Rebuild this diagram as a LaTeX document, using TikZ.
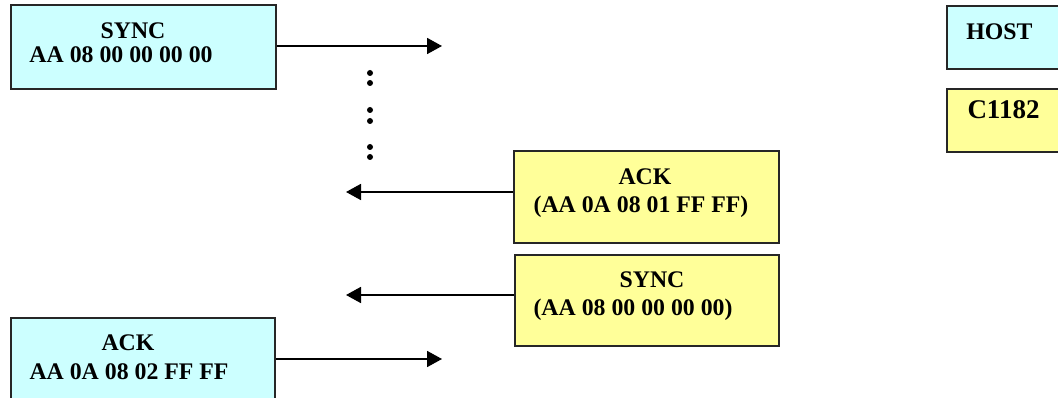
\documentclass[tikz,border=0pt]{standalone}
\usepackage{fontspec}
\setmainfont{Liberation Serif}
\usetikzlibrary{arrows.meta}
\definecolor{hostfill}{HTML}{CCFFFF}
\definecolor{devfill}{HTML}{FFFF99}
\begin{document}
\begin{tikzpicture}[x=1pt,y=-1pt,
  box/.style={draw=black!85,line width=1.8pt,rectangle,anchor=north west,inner sep=0pt},
  hostbox/.style={box,fill=hostfill},
  devbox/.style={box,fill=devfill},
  txt/.style={inner sep=0pt,font=\fontsize{23.8}{28}\selectfont\bfseries,text height=15.5pt,text depth=0pt},
  bigtxt/.style={txt,font=\fontsize{27}{32}\selectfont\bfseries,text height=18pt},
  dot/.style={circle,fill=black,inner sep=0pt,minimum size=6pt},
  arr/.style={line width=1.8pt,-{Triangle[length=15pt,width=16pt]}}]
\clip (0,0) rectangle (1058,398);
\fill[white] (0,0) rectangle (1058,398);

% message boxes
\node[hostbox,minimum width=265pt,minimum height=84pt] (hs) at (10,4) {};
\node[devbox,minimum width=265pt,minimum height=92pt] (ca) at (513,150) {};
\node[devbox,minimum width=264pt,minimum height=91pt] (cs) at (514,254) {};
\node[hostbox,minimum width=264pt,minimum height=110pt] (ha) at (10,317) {};

% legend boxes (running off the right edge)
\node[hostbox,minimum width=130pt,minimum height=63pt] (lh) at (946,5) {};
\node[devbox,minimum width=130pt,minimum height=63pt] (ld) at (946,88) {};

% box texts
\node[txt] (hs1) at (133,31) {SYNC};
\node[txt] (hs2) at (121,55) {AA 08 00 00 00 00};
\node[txt] (ca1) at (645,177) {ACK};
\node[txt] (ca2) at (641,205) {(AA 0A 08 01 FF FF)};
\node[txt] (cs1) at (652,280) {SYNC};
\node[txt] (cs2) at (633,308) {(AA 08 00 00 00 00)};
\node[txt] (ha1) at (128,343) {ACK};
\node[txt] (ha2) at (129,372) {AA 0A 08 02 FF FF};
\node[txt] (lh1) at (999.5,32) {HOST};
\node[bigtxt] (ld1) at (1003.5,110) {C1182};

% ellipsis between the exchanges
\foreach \n/\y in {1/73,2/83,3/110,4/121,5/147,6/157}
  \node[dot] (d\n) at (370,\y) {};

% arrow end points
\coordinate (e1) at (442,46);
\coordinate (e2) at (346,192);
\coordinate (e3) at (346,295);
\coordinate (e4) at (442,359);

\draw[arr] (hs.east |- e1) -- (e1);
\draw[arr] (ca.west |- e2) -- (e2);
\draw[arr] (cs.west |- e3) -- (e3);
\draw[arr] (ha.east |- e4) -- (e4);
\end{tikzpicture}
\end{document}
